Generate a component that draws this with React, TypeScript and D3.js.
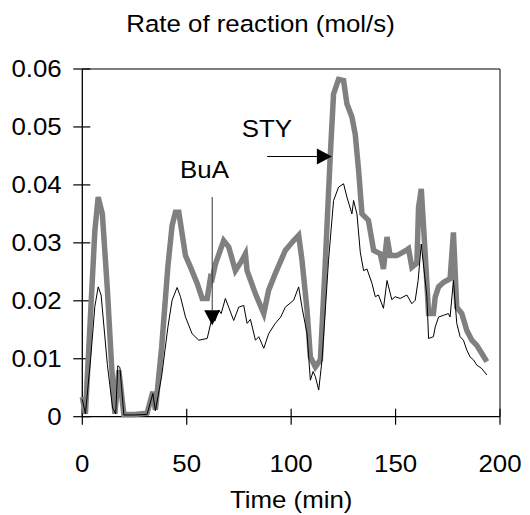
import React from "react";
import * as d3 from "d3";

const grayTime = [0, 1.5, 4, 6, 7.6, 9.6, 12, 14, 15.6, 17.5, 19.9, 25, 31, 33.8, 35, 38, 41, 43, 44.6, 46.2, 49.4, 51.8, 55, 57.4, 59.8, 61.4, 62.2, 63.8, 67.7, 70.1, 73.3, 76.5, 78.1, 78.9, 82.9, 86.9, 89.2, 92.4, 97.2, 101.2, 103.6, 105.2, 107.6, 109.2, 111.6, 114, 116.4, 118.7, 120.3, 122.7, 125.1, 126.7, 129.1, 130.7, 132.3, 133.9, 137, 139.5, 142.7, 144.2, 145.9, 147.4, 150.6, 154.6, 156.2, 157.8, 160.2, 161, 162.3, 164.2, 165.8, 168.1, 169, 170.6, 173, 176.1, 177.7, 179.3, 181.7, 184.1, 186.5, 188.9, 191.3, 193.7];
const grayRate = [0.0034, 0.0005, 0.018, 0.032, 0.0379, 0.035, 0.022, 0.009, 0.0005, 0.008, 0.0004, 0.0004, 0.0006, 0.0043, 0.0012, 0.012, 0.026, 0.033, 0.0353, 0.0353, 0.0278, 0.0258, 0.023, 0.0204, 0.0204, 0.024, 0.0238, 0.0264, 0.0304, 0.0293, 0.0252, 0.027, 0.0281, 0.0252, 0.0212, 0.0178, 0.0218, 0.0247, 0.0287, 0.0304, 0.0313, 0.027, 0.0184, 0.0103, 0.0086, 0.0098, 0.027, 0.0448, 0.0557, 0.0582, 0.058, 0.054, 0.0517, 0.0487, 0.0425, 0.035, 0.0339, 0.0287, 0.0281, 0.0255, 0.031, 0.0278, 0.0278, 0.0286, 0.029, 0.0258, 0.0265, 0.0361, 0.0393, 0.028, 0.0178, 0.0178, 0.0207, 0.0224, 0.0232, 0.0238, 0.0318, 0.0189, 0.0178, 0.0149, 0.0132, 0.0123, 0.0109, 0.0095];

const blackTime = [0, 1.5, 4, 6, 7.6, 9, 12, 14.5, 16, 17, 18, 19.9, 25, 31, 33.8, 35, 38, 41, 43, 45.4, 47, 49.4, 52.6, 55.8, 59.8, 62.2, 63.5, 65.3, 66.5, 68.5, 70.1, 72.5, 74.9, 77.3, 78.9, 80.5, 82.9, 84.5, 86.9, 89.2, 92.4, 95, 97.2, 101.2, 103.6, 105.2, 107.6, 109.2, 110.5, 111.6, 113.2, 114.8, 117.9, 120.3, 122.7, 125.1, 126.7, 129.1, 129.9, 131.5, 133.1, 134.7, 136.3, 138.7, 140.3, 141.8, 144.2, 145.9, 148.2, 149.8, 152.2, 155.4, 157.8, 159.4, 160.8, 162.3, 165, 165.8, 168.1, 169, 170.6, 173, 175.3, 176.1, 177.7, 179.3, 180.9, 182.5, 184.1, 185.7, 187.3, 188.9, 191.3, 193.7];
const blackRate = [0.003, 0.0005, 0.01, 0.019, 0.0224, 0.021, 0.009, 0.0015, 0.0005, 0.0088, 0.0085, 0.0003, 0.0003, 0.0004, 0.004, 0.001, 0.007, 0.0155, 0.0201, 0.0223, 0.0207, 0.0172, 0.0143, 0.0132, 0.0135, 0.0172, 0.0165, 0.0184, 0.0178, 0.0204, 0.0189, 0.0166, 0.0189, 0.0192, 0.0161, 0.0168, 0.0132, 0.0138, 0.0118, 0.0143, 0.0161, 0.0172, 0.0189, 0.0201, 0.0224, 0.0189, 0.0143, 0.0063, 0.0078, 0.0069, 0.0046, 0.0098, 0.027, 0.0373, 0.0396, 0.0402, 0.0379, 0.035, 0.0373, 0.035, 0.0284, 0.0252, 0.0255, 0.023, 0.0207, 0.021, 0.0187, 0.0235, 0.0202, 0.0207, 0.0204, 0.021, 0.0195, 0.0201, 0.0235, 0.0298, 0.0207, 0.0135, 0.0138, 0.0155, 0.0172, 0.0175, 0.0178, 0.0172, 0.0235, 0.0161, 0.0138, 0.0132, 0.0115, 0.0103, 0.0098, 0.0089, 0.0083, 0.0072];

const xTicks = [0, 50, 100, 150, 200];
const yTicks = [0, 0.01, 0.02, 0.03, 0.04, 0.05, 0.06];
const yTickLabels = ["0", "0.01", "0.02", "0.03", "0.04", "0.05", "0.06"];

const titleText = "Rate of reaction (mol/s)";
const xTitleText = "Time (min)";

// annotations in data units
const buaArrow = { t: 62.2, from: 0.0379, to: 0.0158, label: "BuA", labelT: 46.8, labelV: 0.0412 };
const styArrow = { v: 0.0449, from: 88.5, to: 119.5, label: "STY", labelT: 76.3, labelV: 0.0483 };

const W = 530;
const H = 515;
const left = 82.3;
const right = 500;
const top = 69;
const bottom = 416.7;
const FONT = "'Liberation Sans', Arial, sans-serif";
const FS = 23.5;
const SX = 1.1;

export default function App() {
  const x = d3.scaleLinear().domain([0, 200]).range([left, right]);
  const y = d3.scaleLinear().domain([0, 0.06]).range([bottom, top]);

  const line = d3
    .line<[number, number]>()
    .x((d) => x(d[0]))
    .y((d) => y(d[1]));

  const grayData: [number, number][] = grayTime.map((t, i) => [t, grayRate[i]]);
  const blackData: [number, number][] = blackTime.map((t, i) => [t, blackRate[i]]);

  const txt = (
    s: string,
    px: number,
    py: number,
    anchor: "start" | "middle" | "end",
    key?: string
  ) => (
    <text
      key={key}
      transform={`translate(${px},${py}) scale(${SX},1)`}
      textAnchor={anchor}
      fontFamily={FONT}
      fontSize={FS}
      fill="#000"
    >
      {s}
    </text>
  );

  const bx = x(buaArrow.t);
  const bTop = y(buaArrow.from);
  const bTip = y(buaArrow.to);
  const sy = y(styArrow.v);
  const sFrom = x(styArrow.from);
  const sTip = x(styArrow.to);
  const triW = 8;
  const triL = 15;

  return (
    <svg
      width={W}
      height={H}
      style={{ position: "absolute", left: 0, top: 0, background: "#fff" }}
    >
      {/* frame */}
      <line x1={left} x2={right} y1={top} y2={top} stroke="#000" strokeWidth={1.2} />
      <line x1={right} x2={right} y1={top} y2={bottom} stroke="#000" strokeWidth={1} />
      {/* axes */}
      <line x1={left} x2={left} y1={top} y2={bottom} stroke="#000" strokeWidth={1.3} />
      <line x1={left} x2={right} y1={bottom} y2={bottom} stroke="#000" strokeWidth={1.3} />
      {yTicks.map((v, i) => (
        <g key={"yt" + i}>
          <line x1={left - 9} x2={left + 8} y1={y(v)} y2={y(v)} stroke="#000" strokeWidth={1.2} />
          {txt(yTickLabels[i], 61.7, y(v) + 8.3, "end")}
        </g>
      ))}
      {xTicks.map((t, i) => (
        <g key={"xt" + i}>
          <line x1={x(t)} x2={x(t)} y1={bottom - 8} y2={bottom + 8} stroke="#000" strokeWidth={1.2} />
          {txt(String(t), x(t), 471.7, "middle")}
        </g>
      ))}
      {/* series */}
      <path d={line(grayData) || ""} fill="none" stroke="#808080" strokeWidth={5.5} strokeLinejoin="miter" />
      <path d={line(blackData) || ""} fill="none" stroke="#000" strokeWidth={1} strokeLinejoin="round" />
      {/* BuA arrow */}
      <line x1={bx} x2={bx} y1={bTop} y2={bTip - triL} stroke="#333" strokeWidth={1} />
      <path d={`M${bx - triW},${bTip - triL} L${bx + triW},${bTip - triL} L${bx},${bTip} Z`} fill="#000" />
      {txt(buaArrow.label, x(buaArrow.labelT), y(buaArrow.labelV), "start")}
      {/* STY arrow */}
      <line x1={sFrom} x2={sTip - triL} y1={sy} y2={sy} stroke="#000" strokeWidth={1} />
      <path d={`M${sTip - triL},${sy - triW} L${sTip - triL},${sy + triW} L${sTip},${sy} Z`} fill="#000" />
      {txt(styArrow.label, x(styArrow.labelT), y(styArrow.labelV), "start")}
      {/* titles */}
      {txt(titleText, 260.5, 31.7, "middle")}
      {txt(xTitleText, (left + right) / 2, 508.3, "middle")}
    </svg>
  );
}
